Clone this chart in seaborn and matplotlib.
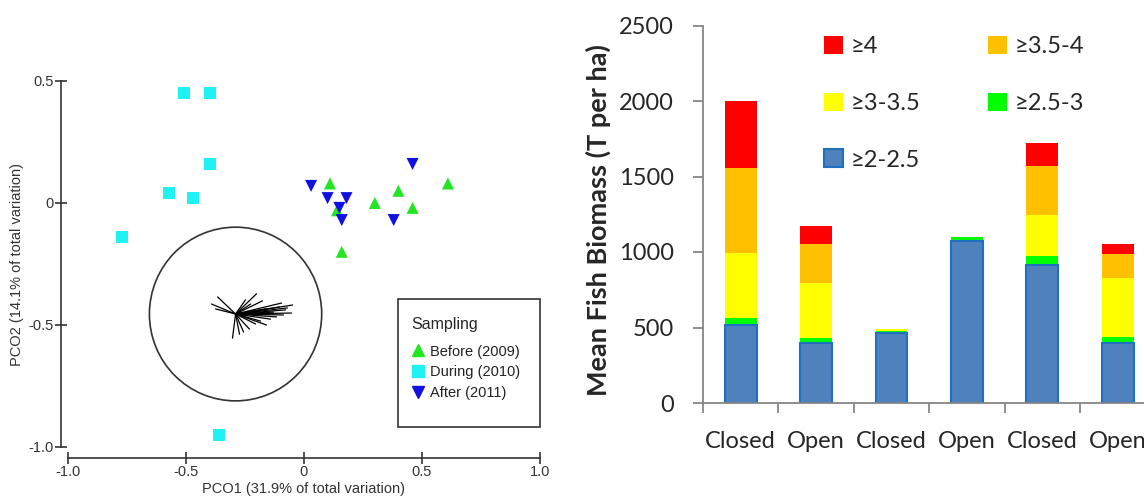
import numpy as np
import pandas as pd
import matplotlib
matplotlib.use('Agg')
import matplotlib.pyplot as plt
import seaborn as sns
from matplotlib.patches import Ellipse, Patch, Rectangle
from matplotlib.lines import Line2D

sns.set_style('white')
plt.rcParams['font.family'] = ['Liberation Sans', 'DejaVu Sans']

# ---- 左图: PCO 排序 ----
before_x = [0.11, 0.40, 0.61, 0.30, 0.46, 0.14, 0.16]
before_y = [0.08, 0.05, 0.08, 0.00, -0.02, -0.03, -0.20]
during_x = [-0.51, -0.40, -0.40, -0.57, -0.47, -0.77, -0.36]
during_y = [0.45, 0.45, 0.16, 0.04, 0.02, -0.14, -0.95]
after_x = [0.03, 0.46, 0.10, 0.18, 0.15, 0.16, 0.38]
after_y = [0.07, 0.16, 0.02, 0.02, -0.02, -0.07, -0.07]
groups = ['Before (2009)', 'During (2010)', 'After (2011)']

# 向量图（圆心和端点偏移）
circle_center = (-0.29, -0.455)
circle_radius = 0.365
vec_dx = [-0.102, -0.076, -0.085, 0.089, 0.242, 0.237, 0.195, -0.013, 0.131, 0.059,
          0.174, 0.114, 0.212, 0.186, 0.161, 0.148, 0.085, 0.034, 0.017, 0.127,
          0.220, 0.064, 0.042, 0.106, 0.203, 0.085]
vec_dy = [0.041, 0.070, 0.021, 0.083, 0.037, 0.004, 0.045, -0.099, -0.045, -0.062,
          -0.012, 0.054, 0.017, 0.029, 0.008, -0.021, -0.041, -0.074, -0.083, 0.021,
          0.025, 0.041, 0.058, -0.029, -0.004, 0.012]

# ---- 右图: 堆叠柱状图 ----
sites = ['Closed', 'Open', 'Closed', 'Open', 'Closed', 'Open']
b2_25 = [515, 395, 465, 1070, 915, 395]
b25_3 = [50, 35, 12, 28, 60, 40]
b3_35 = [430, 365, 13, 0, 270, 395]
b35_4 = [560, 255, 0, 0, 325, 155]
b4 = [445, 125, 0, 0, 150, 70]
layer_names = ['≥2-2.5', '≥2.5-3', '≥3-3.5', '≥3.5-4', '≥4']
layer_colors = ['#4F81BD', '#00FF00', '#FFFF00', '#FFC000', '#FF0000']

fig = plt.figure(figsize=(11.44, 4.98), dpi=100)

# 左图
ax1 = fig.add_axes([68 / 1144, 1 - 447 / 498, 472 / 1144, 366 / 498])
pts = pd.DataFrame({
    'x': before_x + during_x + after_x,
    'y': before_y + during_y + after_y,
    'Sampling': [groups[0]] * len(before_x) + [groups[1]] * len(during_x) + [groups[2]] * len(after_x),
})
pal = {groups[0]: '#22E622', groups[1]: '#1EF2F2', groups[2]: '#1010E0'}
mk = {groups[0]: '^', groups[1]: 's', groups[2]: 'v'}
sns.scatterplot(data=pts, x='x', y='y', hue='Sampling', style='Sampling',
                palette=pal, markers=mk, s=75, linewidth=0, ax=ax1,
                legend=False, clip_on=False)

ax1.add_patch(Ellipse(circle_center, 2 * circle_radius, 2 * circle_radius * 236 / 242,
                      fill=False, ec='#333333', lw=1.2))
for dx, dy in zip(vec_dx, vec_dy):
    ax1.plot([circle_center[0], circle_center[0] + dx],
             [circle_center[1], circle_center[1] + dy], color='black', lw=0.9)

ax1.set_xticks([-1.0, -0.5, 0, 0.5, 1.0])
ax1.set_xticklabels(['-1.0', '-0.5', '0', '0.5', '1.0'])
ax1.set_yticks([-1.0, -0.5, 0, 0.5])
ax1.set_yticklabels(['-1.0', '-0.5', '0', '0.5'])
ax1.set_xlim(-1, 1)
ax1.set_ylim(-1, 0.5)
for s in ['top', 'right']:
    ax1.spines[s].set_visible(False)
ax1.spines['left'].set_position(('outward', 5))
ax1.spines['bottom'].set_position(('outward', 8))
ax1.spines['left'].set_bounds(-1, 0.5)
ax1.spines['bottom'].set_bounds(-1, 1)
for s in ['left', 'bottom']:
    ax1.spines[s].set_color('#333333')
    ax1.spines[s].set_linewidth(1.2)
ax1.tick_params(direction='inout', length=8, width=1.2, color='#333333',
                labelsize=10.5, labelcolor='#333333', pad=1, left=True, bottom=True)
ax1.set_xlabel('PCO1 (31.9% of total variation)', fontsize=10.5, color='#333333', labelpad=2)
ax1.set_ylabel('PCO2 (14.1% of total variation)', fontsize=10.5, color='#333333')
ax1.yaxis.set_label_coords(-0.094, 0.5)

# 图例：方框单独画
ax1.add_patch(Rectangle((0.699, 0.0546), 0.301, 0.350, transform=ax1.transAxes,
                        fill=False, ec='#333333', lw=1.2, clip_on=False))
handles = [Line2D([], [], marker=mk[g], color=pal[g], ls='none', markersize=8) for g in groups]
leg = ax1.legend(handles, groups, title='Sampling', loc='upper left',
                 bbox_to_anchor=(0.727, 0.355), frameon=False,
                 fontsize=10.5, title_fontsize=11.5, borderpad=0, labelspacing=0.45,
                 handlelength=1.0, handletextpad=0.3, alignment='left', borderaxespad=0)
leg._legend_box.sep = 9
for t in leg.get_texts():
    t.set_color('#222222')

# 右图
ax2 = fig.add_axes([703 / 1144, 1 - 403 / 498, 441 / 1144, 377.5 / 498])
keys = [f's{i}' for i in range(len(sites))]
stack = np.cumsum(np.array([b2_25, b25_3, b3_35, b35_4, b4]), axis=0)
for i in range(len(layer_names) - 1, -1, -1):
    col = layer_colors[i]
    ec = '#1F70C0' if i == 0 else col
    lw = 1.5 if i == 0 else 0
    sns.barplot(x=keys, y=stack[i], order=keys, color=col, saturation=1, width=0.42,
                edgecolor=ec, linewidth=lw, errorbar=None, ax=ax2)

ax2.set_yticks([0, 500, 1000, 1500, 2000, 2500])
ax2.set_xticks(np.arange(-0.5, len(sites), 1.0))
ax2.set_xticklabels([])
ax2.set_xticks(np.arange(len(sites)), minor=True)
ax2.set_xticklabels(sites, minor=True)
# 设置刻度之后再定范围，右边被裁掉
ax2.set_xlim(-0.5, -0.5 + 441 / 75.4)
ax2.set_ylim(0, 2500)
rfont = ['Lato', 'DejaVu Sans']
for t in ax2.get_xticklabels(minor=True) + ax2.get_yticklabels():
    t.set_family(rfont)
for s in ['top', 'right']:
    ax2.spines[s].set_visible(False)
for s in ['left', 'bottom']:
    ax2.spines[s].set_color('#868686')
    ax2.spines[s].set_linewidth(1.3)
ax2.tick_params(which='major', direction='out', length=7, width=1.3, color='#868686',
                labelsize=17, pad=14, left=True, bottom=True)
ax2.tick_params(which='minor', axis='x', length=0, labelsize=17, pad=20)
ax2.set_xlabel('')
ax2.set_ylabel('Mean Fish Biomass (T per ha)', fontsize=19.5, fontweight='bold',
               family=rfont)
ax2.yaxis.set_label_coords(-0.209, 0.485)

leg_order = [4, 2, 0, 3, 1]
rh = [Patch(facecolor=layer_colors[i],
            edgecolor='#1F70C0' if i == 0 else layer_colors[i],
            linewidth=1.5 if i == 0 else 0) for i in leg_order]
rl = [layer_names[i] for i in leg_order]
leg2 = ax2.legend(rh, rl, ncol=2, loc='upper left', bbox_to_anchor=(0.275, 0.972),
                  frameon=False, prop={'family': rfont, 'size': 17},
                  handlelength=0.8, handleheight=0.8, handletextpad=0.3,
                  labelspacing=1.5, columnspacing=2.9, borderaxespad=0, borderpad=0)

fig.savefig('out.png', dpi=100)
